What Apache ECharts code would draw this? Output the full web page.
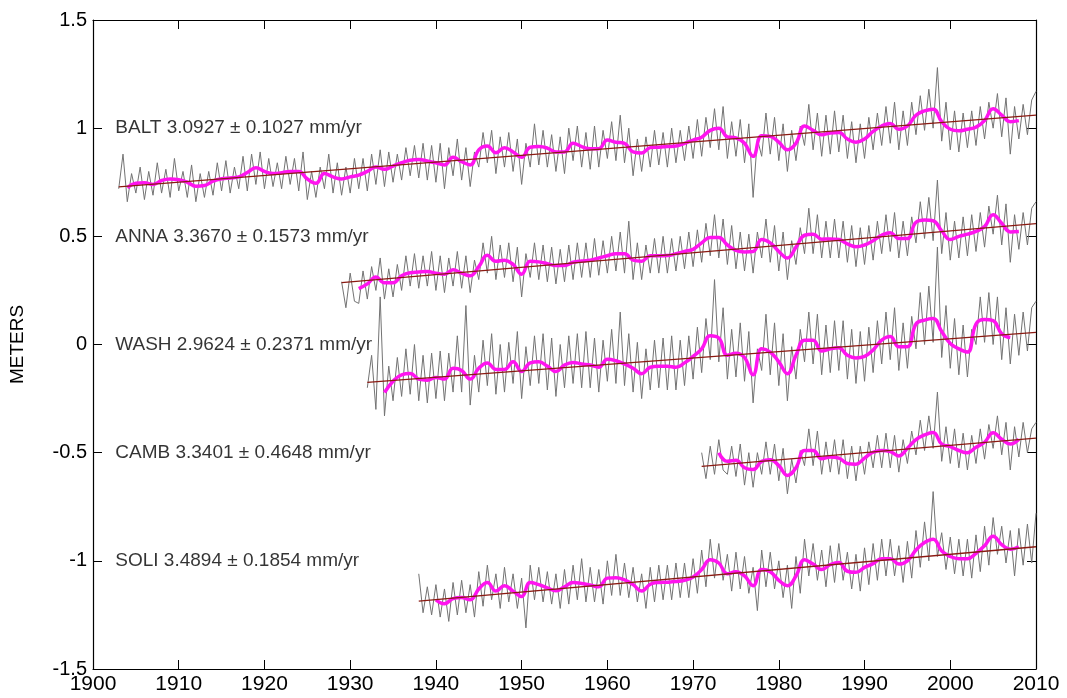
<!DOCTYPE html>
<html>
<head>
<meta charset="utf-8">
<script src="https://cdn.jsdelivr.net/npm/echarts@6/dist/echarts.min.js"></script>
<style>
    html, body { margin: 0; background: #fff; }
    #chart { width: 1067px; height: 698px; }
</style>
</head>
<body>
<div id="chart"></div>
<script>
// 站名與趨勢文字
const stations = ['BALT', 'ANNA', 'WASH', 'CAMB', 'SOLI']
const rates = ['3.0927 ± 0.1027', '3.3670 ± 0.1573', '2.9624 ± 0.2371', '3.3401 ± 0.4648', '3.4894 ± 0.1854']
const labelLevels = [1, 0.5, 0, -0.5, -1]
const labelYear = 1902.6

// 月資料 (每半年讀一點), 起始年
const grayStart = [1903, 1929, 1932, 1971, 1938]
const balGray = [
    0.72,0.88, 0.66,0.79, 0.70,0.82, 0.67,0.80, 0.69,0.84, 0.70,0.81, 0.68,0.86, 0.71,0.80, 0.68,0.83, 0.66,0.79,
    0.68,0.80, 0.69,0.84, 0.71,0.85, 0.70,0.82, 0.72,0.87, 0.71,0.88, 0.74,0.89, 0.72,0.86, 0.73,0.84, 0.72,0.87,
    0.74,0.86, 0.71,0.89, 0.67,0.80, 0.68,0.82, 0.72,0.88, 0.70,0.84, 0.69,0.82, 0.70,0.86, 0.72,0.86, 0.71,0.88,
    0.74,0.90, 0.73,0.89, 0.75,0.88, 0.76,0.91, 0.78,0.92, 0.77,0.93, 0.76,0.92, 0.75,0.93, 0.72,0.91, 0.78,0.95,
    0.76,0.91, 0.73,0.89, 0.82,0.98, 0.84,0.99, 0.79,0.96, 0.82,0.98, 0.80,0.95, 0.74,0.93, 0.82,1.02, 0.83,0.99,
    0.82,0.97, 0.80,0.96, 0.79,1.00, 0.85,1.01, 0.82,0.98, 0.81,1.01, 0.82,0.99, 0.86,1.03, 0.85,1.06, 0.84,1.00,
    0.78,0.95, 0.80,0.96, 0.82,0.99, 0.83,0.98, 0.82,1.00, 0.84,0.99, 0.85,1.01, 0.86,1.04, 0.87,1.05, 0.91,1.09,
    0.90,1.10, 0.86,1.03, 0.87,1.04, 0.84,1.02, 0.68,0.95, 0.87,1.07, 0.88,1.05, 0.85,1.02, 0.80,0.99, 0.85,1.01,
    0.92,1.11, 0.90,1.07, 0.87,1.06, 0.88,1.08, 0.89,1.06, 0.86,1.03, 0.84,1.02, 0.86,1.05, 0.90,1.07, 0.92,1.10,
    0.93,1.12, 0.90,1.08, 0.92,1.12, 0.97,1.15, 0.99,1.18, 1.00,1.28, 0.94,1.12, 0.90,1.08, 0.89,1.07, 0.91,1.08,
    0.92,1.10, 0.95,1.12, 1.00,1.16, 0.96,1.14, 0.88,1.10, 0.95,1.11, 0.97,1.13, 1.17
]
const annaGray = [
    0.29,0.17, 0.33,0.20, 0.19,0.34, 0.21,0.36, 0.25,0.40, 0.21,0.35, 0.22,0.37, 0.25,0.41, 0.27,0.42, 0.26,0.41,
    0.27,0.43, 0.25,0.41, 0.24,0.40, 0.27,0.43, 0.26,0.41, 0.24,0.39, 0.30,0.47, 0.33,0.50, 0.30,0.46, 0.31,0.47,
    0.29,0.45, 0.22,0.42, 0.31,0.47, 0.30,0.46, 0.29,0.45, 0.28,0.44, 0.29,0.46, 0.30,0.47, 0.31,0.47, 0.31,0.49,
    0.32,0.48, 0.33,0.50, 0.34,0.52, 0.33,0.57, 0.30,0.47, 0.30,0.46, 0.33,0.49, 0.33,0.50, 0.33,0.49, 0.34,0.50,
    0.35,0.52, 0.36,0.53, 0.38,0.56, 0.41,0.60, 0.40,0.58, 0.37,0.55, 0.35,0.52, 0.34,0.51, 0.33,0.52, 0.40,0.58,
    0.38,0.55, 0.34,0.52, 0.30,0.48, 0.37,0.54, 0.42,0.63, 0.42,0.60, 0.40,0.57, 0.40,0.58, 0.40,0.57, 0.38,0.55,
    0.36,0.54, 0.37,0.55, 0.39,0.57, 0.42,0.60, 0.43,0.61, 0.40,0.57, 0.41,0.59, 0.47,0.66, 0.49,0.68, 0.48,0.76,
    0.42,0.61, 0.39,0.57, 0.40,0.59, 0.41,0.60, 0.43,0.61, 0.45,0.64, 0.51,0.69, 0.46,0.65, 0.38,0.60, 0.44,0.61,
    0.46,0.63, 0.66
]
const washGray = [
    -0.20,-0.05, -0.30,0.22, -0.33,-0.10, -0.26,-0.06, -0.24,-0.02, -0.23,0.00, -0.26,-0.05, -0.27,-0.04, -0.25,-0.03, -0.26,-0.04,
    -0.22,0.04, -0.22,0.18, -0.28,-0.05, -0.22,0.02, -0.19,0.05, -0.23,0.00, -0.22,0.01, -0.18,0.06, -0.25,-0.01, -0.19,0.04,
    -0.18,0.05, -0.21,0.03, -0.24,0.00, -0.20,0.04, -0.18,0.05, -0.20,0.06, -0.20,0.03, -0.22,0.02, -0.17,0.07, -0.18,0.15,
    -0.19,0.05, -0.22,0.01, -0.25,-0.02, -0.21,0.02, -0.20,0.03, -0.21,0.04, -0.21,0.02, -0.19,0.04, -0.16,0.08, -0.13,0.12,
    -0.07,0.30, -0.08,0.17, -0.16,0.07, -0.15,0.10, -0.17,0.06, -0.27,-0.02, -0.12,0.14, -0.14,0.10, -0.19,0.05, -0.26,-0.01,
    -0.16,0.07, -0.08,0.15, -0.09,0.14, -0.14,0.09, -0.13,0.11, -0.12,0.11, -0.16,0.07, -0.18,0.06, -0.17,0.08, -0.13,0.11,
    -0.09,0.15, -0.07,0.17, -0.12,0.10, -0.11,0.13, -0.02,0.24, 0.00,0.27, 0.01,0.45, -0.06,0.18, -0.11,0.12, -0.14,0.09,
    -0.15,0.07, 0.00,0.22, 0.01,0.24, 0.00,0.22, -0.07,0.17, -0.09,0.14, -0.05,0.15, -0.03,0.17, 0.20
]
const cambGray = [
    -0.50,-0.62, -0.47,-0.60, -0.44,-0.58, -0.60,-0.47, -0.61,-0.46, -0.65,-0.50, -0.66,-0.50, -0.60,-0.45, -0.60,-0.46, -0.63,-0.48,
    -0.69,-0.53, -0.64,-0.49, -0.56,-0.39, -0.56,-0.40, -0.60,-0.45, -0.59,-0.44, -0.60,-0.44, -0.62,-0.47, -0.63,-0.47, -0.60,-0.45,
    -0.57,-0.42, -0.57,-0.41, -0.57,-0.42, -0.59,-0.44, -0.55,-0.40, -0.51,-0.35, -0.49,-0.33, -0.48,-0.22, -0.54,-0.38, -0.55,-0.39,
    -0.57,-0.41, -0.58,-0.42, -0.55,-0.39, -0.53,-0.37, -0.48,-0.33, -0.51,-0.36, -0.58,-0.38, -0.52,-0.36, -0.50,-0.39, -0.36
]
const soliGray = [
    -1.06,-1.24, -1.12,-1.25, -1.11,-1.26, -1.13,-1.28, -1.10,-1.25, -1.09,-1.24, -1.11,-1.26, -1.05,-1.21, -1.02,-1.18, -1.06,-1.22,
    -1.03,-1.19, -1.06,-1.22, -1.08,-1.31, -1.02,-1.18, -1.03,-1.19, -1.05,-1.20, -1.06,-1.22, -1.04,-1.20, -1.02,-1.18, -0.99,-1.19,
    -1.03,-1.19, -1.04,-1.20, -1.00,-1.16, -0.97,-1.16, -1.01,-1.17, -1.03,-1.19, -1.06,-1.22, -1.03,-1.19, -1.02,-1.18, -1.02,-1.18,
    -1.01,-1.17, -1.01,-1.17, -0.99,-1.15, -0.95,-1.12, -0.90,-1.08, -0.92,-1.09, -0.97,-1.14, -0.96,-1.13, -0.98,-1.15, -1.03,-1.23,
    -0.95,-1.12, -0.96,-1.13, -1.00,-1.17, -1.02,-1.22, -0.98,-1.15, -0.90,-1.07, -0.92,-1.09, -0.95,-1.12, -0.93,-1.10, -0.92,-1.09,
    -0.96,-1.13, -0.97,-1.14, -0.94,-1.11, -0.92,-1.09, -0.90,-1.07, -0.90,-1.07, -0.93,-1.10, -0.91,-1.08, -0.86,-1.03, -0.82,-1.00,
    -0.68,-0.98, -0.87,-1.04, -0.89,-1.06, -0.90,-1.07, -0.90,-1.08, -0.88,-1.05, -0.84,-1.02, -0.80,-0.97, -0.84,-1.01, -0.86,-1.07,
    -0.85,-1.02, -0.83,-1.01, -0.78
]

// 平滑曲線 (每年一點), 起始年
const smoothStart = [1904, 1931, 1934, 1973, 1940]
const balSmooth = [
    0.725,0.745,0.748,0.74,0.758,0.765,0.762,0.75,0.732,0.735,
    0.755,0.766,0.77,0.775,0.795,0.817,0.80,0.79,0.794,0.80,
    0.80,0.765,0.745,0.79,0.775,0.765,0.775,0.783,0.80,0.82,
    0.81,0.825,0.84,0.852,0.855,0.848,0.84,0.83,0.865,0.845,
    0.83,0.90,0.918,0.886,0.91,0.89,0.865,0.912,0.915,0.908,
    0.89,0.89,0.93,0.915,0.905,0.905,0.945,0.935,0.93,0.89,
    0.885,0.91,0.912,0.915,0.918,0.93,0.945,0.958,0.99,1.0,
    0.96,0.955,0.93,0.87,0.965,0.962,0.935,0.90,0.93,1.01,
    0.99,0.97,0.978,0.98,0.95,0.935,0.95,0.985,1.01,1.022,
    0.995,1.01,1.06,1.08,1.088,1.03,0.995,0.988,0.995,1.005,
    1.035,1.09,1.06,1.03,1.035
]
const annaSmooth = [
    0.258,0.28,0.312,0.285,0.285,0.318,0.332,0.335,0.337,0.33,
    0.325,0.345,0.33,0.318,0.36,0.412,0.385,0.39,0.37,0.325,
    0.385,0.382,0.374,0.365,0.365,0.38,0.386,0.39,0.40,0.41,
    0.42,0.42,0.39,0.385,0.41,0.41,0.411,0.42,0.43,0.44,
    0.47,0.495,0.495,0.46,0.435,0.428,0.43,0.485,0.47,0.43,
    0.40,0.45,0.505,0.51,0.487,0.488,0.485,0.465,0.452,0.46,
    0.48,0.505,0.517,0.49,0.49,0.565,0.575,0.572,0.525,0.485,
    0.50,0.51,0.523,0.545,0.60,0.56,0.52,0.522
]
const washSmooth = [
    -0.222,-0.17,-0.14,-0.134,-0.16,-0.165,-0.152,-0.16,-0.11,-0.12,
    -0.16,-0.11,-0.085,-0.115,-0.115,-0.08,-0.125,-0.085,-0.08,-0.10,
    -0.125,-0.095,-0.083,-0.09,-0.095,-0.105,-0.068,-0.075,-0.09,-0.11,
    -0.135,-0.105,-0.10,-0.10,-0.105,-0.085,-0.055,-0.02,0.04,0.03,
    -0.05,-0.04,-0.06,-0.14,-0.02,-0.035,-0.08,-0.135,-0.05,0.02,
    0.02,-0.03,-0.02,-0.015,-0.05,-0.062,-0.055,-0.025,0.02,0.037,
    -0.01,-0.01,0.095,0.113,0.12,0.06,0.005,-0.02,-0.035,0.095,
    0.115,0.11,0.05,0.032
]
const cambSmooth = [
    -0.50,-0.54,-0.535,-0.57,-0.578,-0.54,-0.533,-0.56,-0.605,-0.57,
    -0.49,-0.49,-0.528,-0.52,-0.525,-0.55,-0.553,-0.525,-0.498,-0.49,
    -0.495,-0.515,-0.48,-0.44,-0.418,-0.407,-0.46,-0.472,-0.49,-0.50,
    -0.475,-0.452,-0.408,-0.438,-0.46,-0.438
]
const soliSmooth = [
    -1.18,-1.198,-1.175,-1.17,-1.18,-1.13,-1.10,-1.14,-1.115,-1.14,
    -1.165,-1.10,-1.11,-1.125,-1.138,-1.12,-1.10,-1.105,-1.112,-1.12,
    -1.08,-1.078,-1.088,-1.11,-1.14,-1.108,-1.10,-1.099,-1.096,-1.09,
    -1.075,-1.04,-0.995,-1.01,-1.06,-1.05,-1.07,-1.115,-1.04,-1.05,
    -1.09,-1.115,-1.07,-0.995,-1.015,-1.04,-1.018,-1.008,-1.048,-1.053,
    -1.03,-1.013,-0.99,-0.99,-1.015,-1.0,-0.95,-0.915,-0.90,-0.955,
    -0.98,-0.99,-0.99,-0.965,-0.93,-0.886,-0.925,-0.946,-0.935
]

// 線性趨勢 (起訖年, 起訖值)
const trendYears = [[1903, 2010], [1929, 2010], [1932, 2010], [1971, 2010], [1938, 2010]]
const trendValues = [[0.729, 1.06], [0.286, 0.559], [-0.175, 0.056], [-0.563, -0.433], [-1.186, -0.935]]

const xTicks = { min: 1900, max: 2010, interval: 10 }
const yTicks = { min: -1.5, max: 1.5, interval: 0.5 }

const grays = [balGray, annaGray, washGray, cambGray, soliGray]
const smooths = [balSmooth, annaSmooth, washSmooth, cambSmooth, soliSmooth]

const toPairs = (start, step, vals) => vals.map((v, i) => [start + i * step, v])

const FONT = '"Liberation Sans", Arial, sans-serif'

const series = []
stations.forEach((name, k) => {
    series.push({
        name: name + ' monthly',
        type: 'line',
        data: toPairs(grayStart[k], 0.5, grays[k]),
        showSymbol: false,
        lineStyle: { color: '#737373', width: 1 },
        z: 2
    })
    series.push({
        name: name + ' smooth',
        type: 'line',
        data: toPairs(smoothStart[k], 1, smooths[k]),
        showSymbol: false,
        smooth: 0.45,
        lineStyle: { color: '#ff14ef', width: 3.5 },
        z: 3
    })
    series.push({
        name: name + ' trend',
        type: 'line',
        data: trendYears[k].map((yr, i) => [yr, trendValues[k][i]]),
        showSymbol: false,
        lineStyle: { color: '#8a1a12', width: 1.3 },
        z: 4
    })
})

// 站名標籤
series.push({
    type: 'scatter',
    symbolSize: 0,
    data: stations.map((name, k) => ({ value: [labelYear, labelLevels[k]], name: `${name} ${rates[k]} mm/yr` })),
    label: {
        show: true,
        position: 'right',
        distance: 0,
        formatter: p => p.name,
        color: '#000',
        fontFamily: FONT,
        fontSize: 19
    },
    silent: true,
    z: 5
})

const plainLabel = v => String(v)

const chart = echarts.init(document.getElementById('chart'), null, { renderer: 'canvas' })
chart.setOption({
    animation: false,
    backgroundColor: '#fff',
    grid: { left: 88, right: 31, top: 20, bottom: 29 },
    xAxis: [{
        type: 'value',
        ...xTicks,
        axisLine: { show: true, onZero: false, lineStyle: { color: '#000', width: 1.2 } },
        axisTick: { show: true, inside: true, length: 9, lineStyle: { color: '#000' } },
        axisLabel: { color: '#000', fontFamily: FONT, fontSize: 21, margin: 5, formatter: plainLabel },
        splitLine: { show: false }
    }, {
        type: 'value',
        position: 'top',
        ...xTicks,
        axisLine: { show: true, onZero: false, lineStyle: { color: '#000', width: 1.2 } },
        axisTick: { show: true, inside: true, length: 9, lineStyle: { color: '#000' } },
        axisLabel: { show: false },
        splitLine: { show: false }
    }],
    yAxis: [{
        type: 'value',
        ...yTicks,
        name: 'METERS',
        nameLocation: 'middle',
        nameGap: 66,
        nameTextStyle: { color: '#000', fontFamily: FONT, fontSize: 19 },
        axisLine: { show: true, onZero: false, lineStyle: { color: '#000', width: 1.2 } },
        axisTick: { show: true, inside: true, length: 9, lineStyle: { color: '#000' } },
        axisLabel: { color: '#000', fontFamily: FONT, fontSize: 20, margin: 6, formatter: plainLabel },
        splitLine: { show: false }
    }, {
        type: 'value',
        position: 'right',
        ...yTicks,
        axisLine: { show: true, onZero: false, lineStyle: { color: '#000', width: 1.2 } },
        axisTick: { show: true, inside: true, length: 9, lineStyle: { color: '#000' } },
        axisLabel: { show: false },
        splitLine: { show: false }
    }],
    series
})
</script>
</body>
</html>
